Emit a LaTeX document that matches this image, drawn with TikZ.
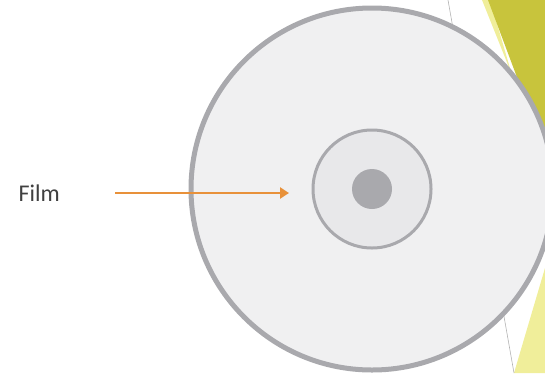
\documentclass[tikz,border=0pt]{standalone}
\usepackage{fontspec}
\setmainfont{Carlito}
\usetikzlibrary{arrows.meta}
\definecolor{ringgray}{HTML}{A9A9AD}
\definecolor{discfill}{HTML}{F0F0F1}
\definecolor{hubfill}{HTML}{E8E8EA}
\definecolor{filmorange}{HTML}{E8913A}
\definecolor{facetgreen}{HTML}{C8C43C}
\definecolor{facetlight}{HTML}{F0EE9A}
\tikzset{ring/.style={circle,draw=ringgray,inner sep=0pt}}
\begin{document}
\begin{tikzpicture}[x=1pt,y=-1pt,line width=.4pt]
\useasboundingbox (0,0) rectangle (545,373); \clip (0,0) rectangle (545,373);
% facet shapes on the right
\fill[facetlight] (482,0)--(490,0)--(512,75)--cycle; \fill[facetgreen] (488,0)--(545,0)--(545,152)--cycle;
\fill[facetlight] (545,268)--(545,373)--(514,373)--cycle; \draw[gray!60,line width=.6pt] (448,0)--(514,373);
% disc
\node[ring,fill=discfill,line width=5pt,minimum size=362pt] (disc) at (372,189) {};
\node[ring,fill=hubfill,line width=3pt,minimum size=118pt] (hub) at (disc.center) {};
\node[circle,fill=ringgray,inner sep=0pt,minimum size=40pt] (hole) at (hub.center) {};
% label and arrow
\node[anchor=west,font=\fontsize{24}{28}\selectfont,text=black!75] (film) at (15,193) {Film};
\coordinate (tail) at (115,193); \coordinate (head) at (289,193);
\draw[filmorange,line width=2.4pt,-{Triangle[length=9pt,width=11pt]}] (tail)--(head);
\end{tikzpicture}
\end{document}
